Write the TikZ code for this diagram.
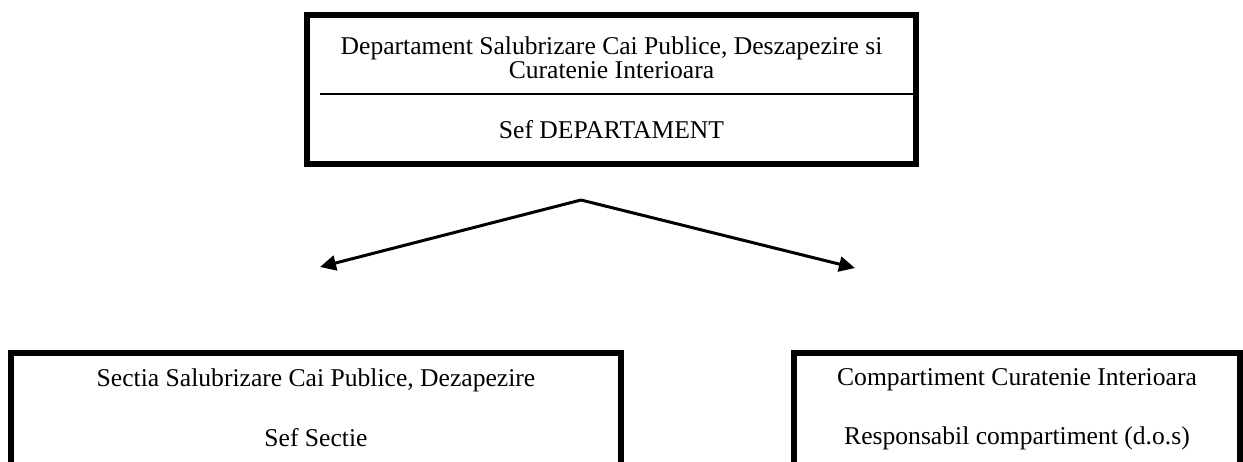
\documentclass[tikz,border=0pt]{standalone}
\usepackage{fontspec}
\setmainfont{Liberation Serif}
\usetikzlibrary{arrows.meta}

\begin{document}
\begin{tikzpicture}[x=0.5pt,y=-0.5pt,
    box/.style={draw,line width=3pt,inner sep=0pt},
    txt/.style={font=\fontsize{12.8}{11.8}\selectfont,align=center,inner sep=0pt},
    arr/.style={line width=1.5pt,-{Triangle[length=8pt,width=7.5pt]}}]
\clip (0,0) rectangle (1243,461);
% head of the department
\node[box,minimum width=304.5pt,minimum height=74.5pt] (dept) at (611.5,89.5) {};
\draw[line width=1pt] (320,94) coordinate (rule w) -- (913,94) coordinate (rule e);
\node[txt] (dept title) at (611.5,58) {Departament Salubrizare Cai Publice, Deszapezire si\\Curatenie Interioara};
\node[txt] (dept head) at (611.5,130) {Sef DEPARTAMENT};
% the two branches
\coordinate (fork) at (581,200);
\coordinate (sectia tip) at (320,267);
\coordinate (comp tip) at (855,268);
\draw[arr] (fork) -- (sectia tip);
\draw[arr] (fork) -- (comp tip);
\foreach \cx/\w/\name/\title/\head in {316/305pt/sectia/{Sectia Salubrizare Cai Publice, Dezapezire}/{Sef Sectie},
    1017/223pt/comp/{Compartiment Curatenie Interioara}/{Responsabil compartiment (d.o.s)}}
  {
  \node[box,minimum width=\w,minimum height=83.5pt] (\name) at (\cx,436.5) {};
  \node[txt] (\name\space title) at (\cx,380) {\title};
  \node[txt] (\name\space head) at (\cx,438) {\head};
  }
\end{tikzpicture}
\end{document}
